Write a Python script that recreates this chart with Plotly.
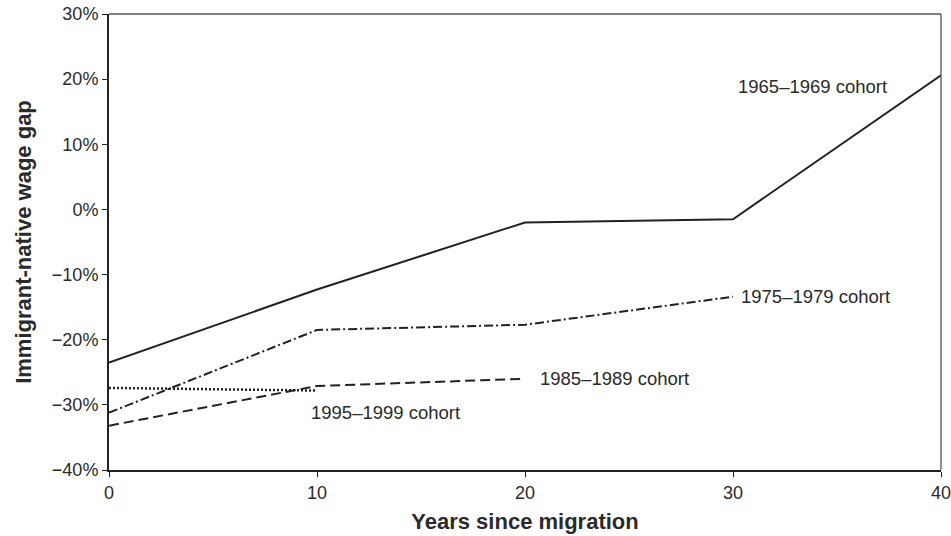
import plotly.graph_objects as go

years = [0, 10, 20, 30, 40]
c1965 = [-23.5, -12.3, -2.0, -1.5, 20.6]
c1975 = [-31.2, -18.5, -17.7, -13.4]
c1985 = [-33.2, -27.1, -26.0]
c1995 = [-27.4, -27.8]

y_ticks = [30, 20, 10, 0, -10, -20, -30, -40]
y_tick_text = ["30%", "20%", "10%", "0%", "\u221210%", "\u221220%", "\u221230%", "\u221240%"]
x_ticks = [0, 10, 20, 30, 40]

labels = ["1965\u20131969 cohort", "1975\u20131979 cohort", "1985\u20131989 cohort", "1995\u20131999 cohort"]

line_color = "#222222"
text_color = "#2a2a2a"
font_family = "Liberation Sans, Arial, sans-serif"

fig = go.Figure()
fig.add_trace(go.Scatter(x=years[:len(c1965)], y=c1965, mode="lines",
                         line=dict(color=line_color, width=2, dash="solid"), name=labels[0]))
fig.add_trace(go.Scatter(x=years[:len(c1975)], y=c1975, mode="lines",
                         line=dict(color=line_color, width=2, dash="9px,3px,2px,3px"), name=labels[1]))
fig.add_trace(go.Scatter(x=years[:len(c1985)], y=c1985, mode="lines",
                         line=dict(color=line_color, width=2, dash="10px,5px"), name=labels[2]))
fig.add_trace(go.Scatter(x=years[:len(c1995)], y=c1995, mode="lines",
                         line=dict(color=line_color, width=2.5, dash="2px,2px"), name=labels[3]))

annots = [
    dict(x=33.8, y=18.8, text=labels[0], xanchor="center", xshift=0),
    dict(x=30.0, y=-13.3, text=labels[1], xanchor="left", xshift=6),
    dict(x=20.0, y=-26.0, text=labels[2], xanchor="left", xshift=13),
    dict(x=9.64, y=-31.1, text=labels[3], xanchor="left", xshift=-1),
]
for a in annots:
    fig.add_annotation(x=a["x"], y=a["y"], text=a["text"], xanchor=a["xanchor"], yanchor="middle",
                       xshift=a["xshift"], showarrow=False,
                       font=dict(size=18.5, color=text_color, family=font_family))

# thinner top / right frame lines
fig.add_shape(type="line", xref="paper", yref="paper", x0=0, x1=1, y0=1, y1=1,
              line=dict(color="#555555", width=1.3))
fig.add_shape(type="line", xref="paper", yref="paper", x0=1, x1=1, y0=0, y1=1,
              line=dict(color="#555555", width=1.3))

fig.update_layout(
    width=951, height=536,
    margin=dict(l=109, r=10, t=14, b=66, autoexpand=False),
    paper_bgcolor="white", plot_bgcolor="white",
    showlegend=False,
    font=dict(family=font_family, color=text_color, size=18),
)
fig.update_xaxes(range=[0, 40], tickvals=x_ticks, ticks="outside", ticklen=5, tickcolor=line_color,
                 showgrid=False, zeroline=False, showline=True, linecolor=line_color, linewidth=2,
                 automargin=False, ticklabeloverflow="allow", tickfont=dict(size=18, color=text_color),
                 title=dict(text="<b>Years since migration</b>", font=dict(size=22, color=text_color), standoff=12))
fig.update_yaxes(range=[-40, 30], tickvals=y_ticks, ticktext=y_tick_text, ticks="outside", ticklen=5,
                 tickcolor=line_color, showgrid=False, zeroline=False, showline=True, linecolor=line_color,
                 linewidth=2, automargin=False, ticklabeloverflow="allow", tickfont=dict(size=18, color=text_color),
                 title=dict(text="<b>Immigrant-native wage gap</b>", font=dict(size=22, color=text_color), standoff=14))

fig.write_html("out.html", config={"displayModeBar": False},
               post_script="document.body.style.margin='0';document.body.style.overflow='hidden';")
